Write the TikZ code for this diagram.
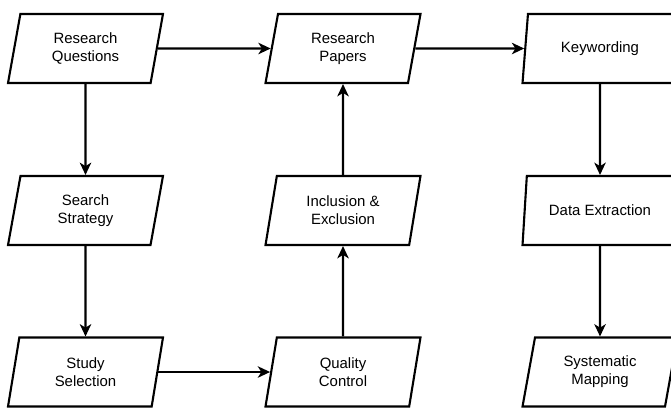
\documentclass[tikz,border=0pt]{standalone}
\usepackage{fontspec}
\setmainfont{Liberation Sans}
\usetikzlibrary{shapes.geometric,arrows.meta}

\begin{document}
\begin{tikzpicture}[x=0.02cm,y=-0.02cm,
  box/.style={trapezium, trapezium left angle=68.6, trapezium right angle=111.4,
    trapezium stretches body, draw, line width=1.2pt, fill=white,
    minimum width=3.1cm, minimum height=1.38cm, inner sep=0pt,
    align=center, font=\fontsize{8.5}{10.2}\selectfont},
  flow/.style={-{Stealth[length=7pt,width=6.5pt,inset=2pt]}, line width=1.2pt}]
\useasboundingbox (0,0) rectangle (671,407);

% place coordinates at the column and row centres
\coordinate (c11) at (85.5,48.5);
\coordinate (c12) at (343,48.5);
\coordinate (c13) at (600,48.5);
\coordinate (c21) at (85.5,210.5);
\coordinate (c22) at (343,210.5);
\coordinate (c23) at (600,210.5);
\coordinate (c31) at (85.5,372);
\coordinate (c32) at (343,372);
\coordinate (c33) at (600,372);

% the boxes
\node[box] (questions) at (c11) {Research\\Questions};
\node[box] (papers) at (c12) {Research\\Papers};
\node[box] (keywording) at (c13) {Keywording};
\node[box] (search) at (c21) {Search\\Strategy};
\node[box] (inclusion) at (c22) {Inclusion \&\\Exclusion};
\node[box] (extraction) at (c23) {Data Extraction};
\node[box] (selection) at (c31) {Study\\Selection};
\node[box] (quality) at (c32) {Quality\\Control};
\node[box] (mapping) at (c33) {Systematic\\Mapping};

% draw the arrows
\draw[flow] (questions.east) -- (papers.west);
\draw[flow] (questions) -- (search);
\draw[flow] (search) -- (selection);
\draw[flow] (selection.east) -- (quality.west);
\draw[flow] (quality) -- (inclusion);
\draw[flow] (inclusion) -- (papers);
\draw[flow] (papers.east) -- (keywording.west);
\draw[flow] (keywording) -- (extraction);
\draw[flow] (extraction) -- (mapping);
\end{tikzpicture}
\end{document}
